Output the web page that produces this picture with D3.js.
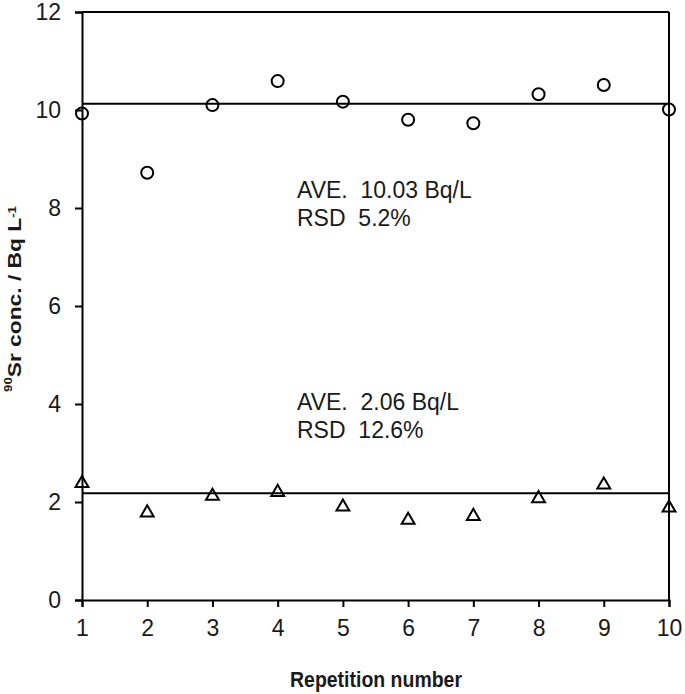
<!DOCTYPE html>
<html><head><meta charset="utf-8">
<script src="https://cdn.jsdelivr.net/npm/d3@7"></script>
<style>
body{margin:0;background:#fff;}
text{font-family:"Liberation Sans",Arial,sans-serif;fill:#1a1a1a;}
</style></head>
<body><svg id="c" width="685" height="694"></svg>
<script>
const repetitions = [1,2,3,4,5,6,7,8,9,10];
const highSeries = [9.93,8.72,10.10,10.59,10.17,9.80,9.73,10.32,10.51,10.01];
const lowSeries = [2.38,1.78,2.12,2.20,1.90,1.63,1.71,2.07,2.35,1.88];
const highLine = 10.13;
const lowLine = 2.18;
const yTicks = [0,2,4,6,8,10,12];
const xTicks = [1,2,3,4,5,6,7,8,9,10];
const notes = [
  {lines:["AVE.  10.03 Bq/L","RSD  5.2%"], y:8.21},
  {lines:["AVE.  2.06 Bq/L","RSD  12.6%"], y:3.88}
];

const svg = d3.select("#c");
const m = {l:82, r:669, t:12, b:600};
const x = d3.scaleLinear().domain([1,10]).range([m.l,m.r]);
const y = d3.scaleLinear().domain([0,12]).range([m.b,m.t]);

// frame (top and right)
svg.append("line").attr("x1",m.l).attr("x2",m.r).attr("y1",m.t).attr("y2",m.t).attr("stroke","#000").attr("stroke-width",2);
svg.append("line").attr("x1",m.r).attr("x2",m.r).attr("y1",m.t).attr("y2",m.b).attr("stroke","#000").attr("stroke-width",2);

const yAxis = svg.append("g").attr("transform",`translate(${m.l},0)`)
  .call(d3.axisLeft(y).tickValues(yTicks).tickSize(7).tickPadding(14).tickFormat(d3.format("d")));
const xAxis = svg.append("g").attr("transform",`translate(0,${m.b})`)
  .call(d3.axisBottom(x).tickValues(xTicks).tickSize(7).tickPadding(12).tickFormat(d3.format("d")));
[yAxis,xAxis].forEach(g=>{
  g.select(".domain").attr("stroke","#000").attr("stroke-width",2);
  g.selectAll(".tick line").attr("stroke","#000").attr("stroke-width",2);
  g.selectAll(".tick text").style("font-size","23px").style("font-family","Liberation Sans, Arial, sans-serif").attr("fill","#1a1a1a");
});
xAxis.selectAll(".tick text").attr("dy","0.72em");

// mean lines
[highLine, lowLine].forEach(v=>{
  svg.append("line").attr("x1",m.l).attr("x2",m.r).attr("y1",y(v)).attr("y2",y(v))
    .attr("stroke","#000").attr("stroke-width",2);
});

// circles
svg.append("g").selectAll("circle").data(highSeries).join("circle")
  .attr("cx",(d,i)=>x(repetitions[i])).attr("cy",d=>y(d)).attr("r",6)
  .attr("fill","none").attr("stroke","#000").attr("stroke-width",2);

// triangles
const tri = d3.symbol().type(d3.symbolTriangle).size(72);
svg.append("g").selectAll("path").data(lowSeries).join("path")
  .attr("d",tri)
  .attr("transform",(d,i)=>`translate(${x(repetitions[i])},${y(d)})`)
  .attr("fill","none").attr("stroke","#000").attr("stroke-width",2);

// annotations
notes.forEach(n=>{
  n.lines.forEach((t,i)=>{
    svg.append("text").attr("x",297).attr("y",y(n.y)+i*28.4)
      .style("font-size","23px").style("white-space","pre").text(t);
  });
});

// axis titles
svg.append("text").attr("x",290).attr("y",687)
  .attr("textLength",172).attr("lengthAdjust","spacingAndGlyphs")
  .style("font-size","21.5px").style("font-weight","bold").text("Repetition number");

const yt = svg.append("text").attr("transform","translate(17,299) rotate(-90) scale(1.2,1)")
  .attr("text-anchor","middle").style("font-size","19px").style("font-weight","bold");
yt.append("tspan").attr("dy","-0.45em").style("font-size","11px").text("90");
yt.append("tspan").attr("dy","0.45em").text("Sr conc. / Bq L");
yt.append("tspan").attr("dy","-0.45em").style("font-size","11px").text("-1");
</script></body></html>
